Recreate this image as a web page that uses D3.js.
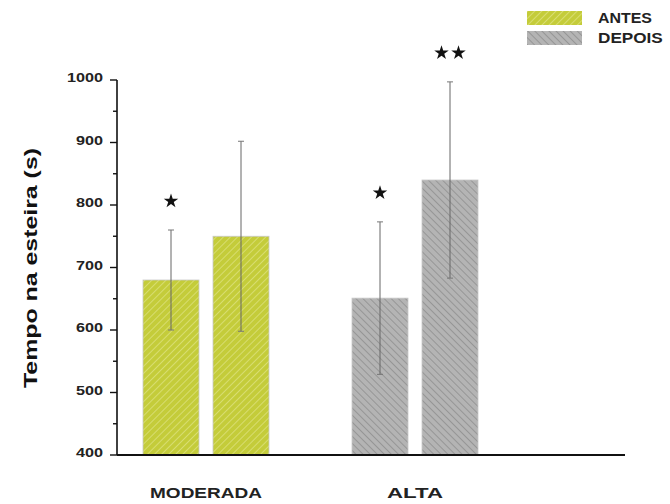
<!DOCTYPE html>
<html>
<head>
<meta charset="utf-8">
<script src="https://cdn.jsdelivr.net/npm/d3@7"></script>
<style>
  body { margin: 0; background: #fff; }
  text { font-family: "Liberation Sans", Arial, sans-serif; font-weight: bold; }
</style>
</head>
<body>
<svg id="chart" width="670" height="504"></svg>
<script>
// data
const groups = ["MODERADA", "ALTA"];
const phases = ["ANTES", "DEPOIS"];
const means = [[680, 750], [651, 840]];
const errors = [[80, 152], [122, 157]];
const stars = [[1, 0], [1, 2]];
const yTicks = [400, 500, 600, 700, 800, 900, 1000];

const svg = d3.select("#chart");

const y = d3.scaleLinear().domain([400, 1000]).range([455, 80]);
const x = d3.scalePoint().domain(groups).range([206, 415]);
const xSub = d3.scaleBand().domain(phases).range([-63, 63]).paddingInner(0.2);

// hatch patterns
const defs = svg.append("defs");
function hatch(id, base, stripe, angle) {
    const p = defs.append("pattern").attr("id", id)
        .attr("patternUnits", "userSpaceOnUse")
        .attr("width", 5).attr("height", 5)
        .attr("patternTransform", `rotate(${angle})`);
    p.append("rect").attr("width", 5).attr("height", 5).attr("fill", base);
    p.append("line").attr("x1", 0).attr("y1", 0).attr("x2", 0).attr("y2", 5)
        .style("stroke", stripe).style("stroke-width", 1.6);
}
hatch("hYel", "#c4cc3a", "#dde27e", 45);
hatch("hGray", "#b4b4b4", "#8f8f8f", -45);
const fills = {MODERADA: "url(#hYel)", ALTA: "url(#hGray)"};

// bars
const rows = [];
groups.forEach((g, i) => phases.forEach((p, j) => rows.push({
    g: g, p: p, v: means[i][j], e: errors[i][j], s: stars[i][j]
})));

svg.selectAll("rect.bar")
    .data(rows).enter()
    .append("rect").attr("class", "bar")
    .attr("x", d => x(d.g) + xSub(d.p))
    .attr("y", d => y(d.v))
    .attr("width", xSub.bandwidth())
    .attr("height", d => y(400) - y(d.v))
    .attr("fill", d => fills[d.g])
    .style("stroke", "#c8c8c8")
    .style("stroke-width", 0.8);

// error bars
const cx = d => x(d.g) + xSub(d.p) + xSub.bandwidth() / 2;
svg.selectAll("line.err")
    .data(rows).enter()
    .append("line").attr("class", "err")
    .attr("x1", cx).attr("x2", cx)
    .attr("y1", d => y(d.v - d.e)).attr("y2", d => y(d.v + d.e))
    .style("stroke", "#666").style("stroke-width", 1);
["cap1", "cap2"].forEach((c, k) => {
    svg.selectAll("line." + c)
        .data(rows).enter()
        .append("line").attr("class", c)
        .attr("x1", d => cx(d) - 3).attr("x2", d => cx(d) + 3)
        .attr("y1", d => y(k ? d.v - d.e : d.v + d.e))
        .attr("y2", d => y(k ? d.v - d.e : d.v + d.e))
        .style("stroke", "#777").style("stroke-width", 1);
});

// significance stars
const star = d3.symbol().type(d3.symbolStar).size(65);
rows.filter(d => d.s > 0).forEach(d => {
    for (let k = 0; k < d.s; k++) {
        const off = (k - (d.s - 1) / 2) * 17;
        svg.append("path").attr("d", star)
            .attr("transform", `translate(${cx(d) + off},${y(d.v + d.e) - 29})`)
            .attr("fill", "#111");
    }
});

// axes
svg.append("line").attr("x1", 117).attr("x2", 117).attr("y1", y(1000)).attr("y2", y(400))
    .style("stroke", "#111").style("stroke-width", 1.6);
svg.append("line").attr("x1", 117).attr("x2", 625).attr("y1", y(400)).attr("y2", y(400))
    .style("stroke", "#111").style("stroke-width", 2);
svg.selectAll("line.ytick")
    .data(d3.range(400, 1001, 50)).enter()
    .append("line").attr("class", "ytick")
    .attr("x1", d => d % 100 === 0 ? 110 : 113).attr("x2", 117)
    .attr("y1", d => y(d)).attr("y2", d => y(d))
    .style("stroke", "#111").style("stroke-width", 1.4);
svg.selectAll("text.ylab")
    .data(yTicks).enter()
    .append("text").attr("class", "ylab")
    .attr("x", 103).attr("y", d => y(d) + 2)
    .attr("text-anchor", "end")
    .attr("textLength", d => String(d).length * 9)
    .attr("lengthAdjust", "spacingAndGlyphs")
    .style("font-size", "13px").style("fill", "#222")
    .text(d => d);

svg.append("text")
    .attr("transform", "translate(37,268) rotate(-90)")
    .attr("text-anchor", "middle")
    .attr("textLength", 240)
    .attr("lengthAdjust", "spacingAndGlyphs")
    .style("font-size", "19px").style("fill", "#111")
    .text("Tempo na esteira (s)");

svg.selectAll("text.xlab")
    .data(groups).enter()
    .append("text").attr("class", "xlab")
    .attr("x", d => x(d) - (d.length * 14) / 2).attr("y", 498)
    .attr("textLength", d => d.length * 14)
    .attr("lengthAdjust", "spacingAndGlyphs")
    .style("font-size", "15px").style("fill", "#222")
    .text(d => d);

// legend
const legend = svg.selectAll("g.legend")
    .data(phases).enter()
    .append("g").attr("class", "legend")
    .attr("transform", (d, i) => `translate(527,${11 + i * 20})`);
legend.append("rect")
    .attr("width", 55).attr("height", 14)
    .attr("fill", (d, i) => i ? "url(#hGray)" : "url(#hYel)");
legend.append("text")
    .attr("x", 71).attr("y", 12)
    .attr("textLength", d => d.length * 10.8)
    .attr("lengthAdjust", "spacingAndGlyphs")
    .style("font-size", "14px").style("fill", "#222")
    .text(d => d);
</script>
</body>
</html>
